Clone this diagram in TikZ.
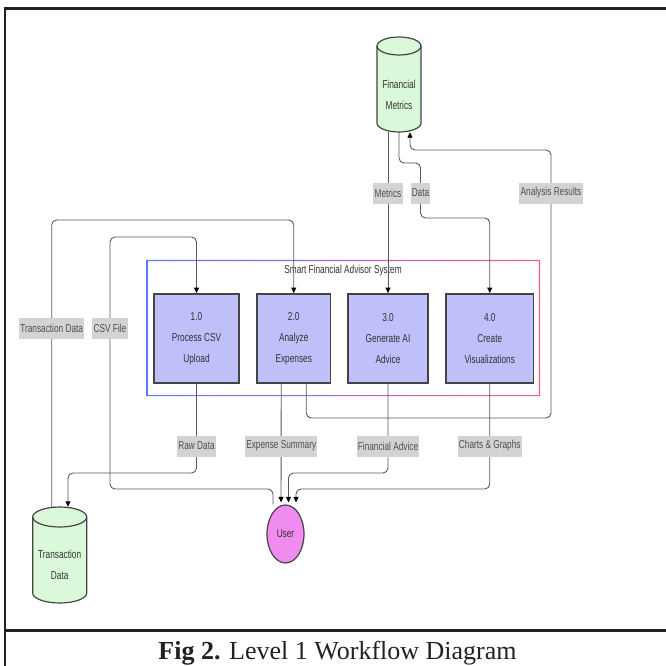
\documentclass[tikz,border=0pt]{standalone}
\usepackage{fontspec}
\setmainfont{Liberation Serif}
\newfontfamily\nsf[FakeStretch=0.72]{Liberation Sans}
\usetikzlibrary{arrows.meta,shapes.geometric}
\definecolor{boxfill}{RGB}{191,191,250}
\definecolor{cylfill}{RGB}{218,249,218}
\definecolor{userfill}{RGB}{240,140,240}
\definecolor{edgec}{RGB}{68,68,68}
\definecolor{linec}{RGB}{90,90,90}
\definecolor{lblfill}{RGB}{211,211,211}
\definecolor{lbltext}{RGB}{80,80,80}
\definecolor{txtc}{RGB}{51,51,51}
\definecolor{sysblue}{RGB}{90,120,250}
\definecolor{syspink}{RGB}{240,95,135}
\definecolor{framec}{RGB}{34,34,34}
\newcommand\cyltext[1]{\raisebox{-10pt}[\height][\depth]{\begin{tabular}{@{}c@{}}#1\end{tabular}}}
\newcommand\cylshape[5]{%
  \draw[cylstyle] ({#1-#4},{#2+#5}) -- ({#1-#4},{#3-#5})
    arc[start angle=180,end angle=360,x radius=#4pt,y radius=#5pt]
    -- ({#1+#4},{#2+#5})
    arc[start angle=0,end angle=180,x radius=#4pt,y radius=#5pt] -- cycle;
  \draw[cylstyle,fill=none] ({#1-#4},{#2+#5})
    arc[start angle=180,end angle=360,x radius=#4pt,y radius=#5pt];
}
\begin{document}
\begin{tikzpicture}[x=1pt,y=-1pt,
  proc/.style={draw=edgec,line width=1.8pt,fill=boxfill,minimum height=89pt,
    align=center,text=txtc,font=\nsf\fontsize{11.5}{21}\selectfont,inner sep=0pt},
  cylstyle/.style={draw=edgec,line width=1.2pt,fill=cylfill},
  storenode/.style={draw=none,inner sep=0pt,text=txtc,
    font=\nsf\fontsize{11.5}{21}\selectfont},
  flow/.style={draw=linec,line width=0.9pt,rounded corners=5pt},
  arr/.style={-{Triangle[length=5.5pt,width=5pt,color=black]}},
  lbl/.style={fill=lblfill,text=lbltext,inner xsep=1.2pt,inner ysep=0pt,
    minimum height=21pt,font=\nsf\fontsize{11.5}{13}\selectfont},
]
\useasboundingbox (0,0) rectangle (666,666);
\clip (0,0) rectangle (666,666);
\fill[white] (0,0) rectangle (666,666);

% outer frame
\draw[framec,line width=2.5pt] (5,700) -- (5,8.5) -- (700,8.5);
\draw[framec,line width=3pt] (5,630) -- (700,630);

% system boundary
\node[minimum width=393pt,minimum height=136pt,inner sep=0pt] (sys) at (343.3,328) {};
\shade[left color=sysblue,right color=syspink,even odd rule]
  (sys.north west) rectangle (sys.south east)
  ([shift={(1.2pt,-1.2pt)}]sys.north west) rectangle ([shift={(-1.2pt,1.2pt)}]sys.south east);
\node[text=txtc,font=\nsf\fontsize{11.5}{13}\selectfont] (title) at (343,271) {Smart Financial Advisor System};

% processes
\node[proc,minimum width=85pt] (box1) at (196.5,338.5) {1.0\\Process CSV\\Upload};
\node[proc,minimum width=73.5pt] (box2) at (293.75,338.5) {2.0\\Analyze\\Expenses};
\node[proc,minimum width=80pt] (box3) at (388,338.5) {3.0\\Generate AI\\Advice};
\node[proc,minimum width=87.5pt] (box4) at (489.75,338.5) {4.0\\Create\\Visualizations};

% data stores
\cylshape{399}{37}{132}{22}{9}
\node[storenode,minimum width=44pt,minimum height=95pt] (fm) at (399,84.5) {\cyltext{Financial\\Metrics}};
\cylshape{59.7}{507}{603}{27}{10}
\node[storenode,minimum width=54pt,minimum height=96pt] (td) at (59.7,555) {\cyltext{Transaction\\Data}};

% external entity
\node[ellipse,draw=edgec,line width=1.2pt,fill=userfill,minimum width=37pt,minimum height=58pt,
  inner sep=0pt,text=txtc,font=\nsf\fontsize{11.5}{13}\selectfont] (user) at (285.5,534) {User};

% connectors
\draw[flow,arr] ([xshift=-8pt]td.north) |- (170,220) -| (box2.north);
\draw[flow,arr] ([xshift=-12.5pt]user.north) |- (110,489) -- (110,237) -| (box1.north);
\draw[flow,arr] ([xshift=-11pt]fm.south) -- (box3.north);
\draw[flow,arr] (fm.south) |- (420.5,163) -- (420.5,218) -| (box4.north);
\draw[flow,arr] ([xshift=12.5pt]box2.south) |- (551,418) -- (551,150) -| ([xshift=11pt]fm.south);
\draw[flow,arr] (box1.south) |- (100,473) -| ([xshift=8.3pt]td.north);
\draw[flow,arr] ([xshift=-12.5pt]box2.south) -- ([xshift=-4.5pt,yshift=2pt]user.north);
\draw[flow,arr] (box3.south) |- (300,473) -| ([xshift=3pt,yshift=2pt]user.north);
\draw[flow,arr] (box4.south) |- (350,489) -| ([xshift=10.5pt,yshift=2pt]user.north);

% connector labels
\node[lbl] (lmet) at (388,193) {Metrics};
\node[lbl] (ldat) at (420.5,193) {Data};
\node[lbl] (lana) at (551,193) {Analysis Results};
\node[lbl] (ltrd) at (51.7,328) {Transaction Data};
\node[lbl] (lcsv) at (110,328) {CSV File};
\node[lbl] (lraw) at (196.5,446) {Raw Data};
\node[lbl] (lexp) at (281.25,446) {Expense Summary};
\node[lbl] (lfin) at (388,446) {Financial Advice};
\node[lbl] (lcha) at (489.75,446) {Charts \& Graphs};

% caption
\node[anchor=base,text=framec,font=\fontsize{26}{30}\selectfont,inner sep=0pt] (cap) at (337.5,659)
  {\textbf{Fig 2.} Level 1 Workflow Diagram};
\end{tikzpicture}
\end{document}
